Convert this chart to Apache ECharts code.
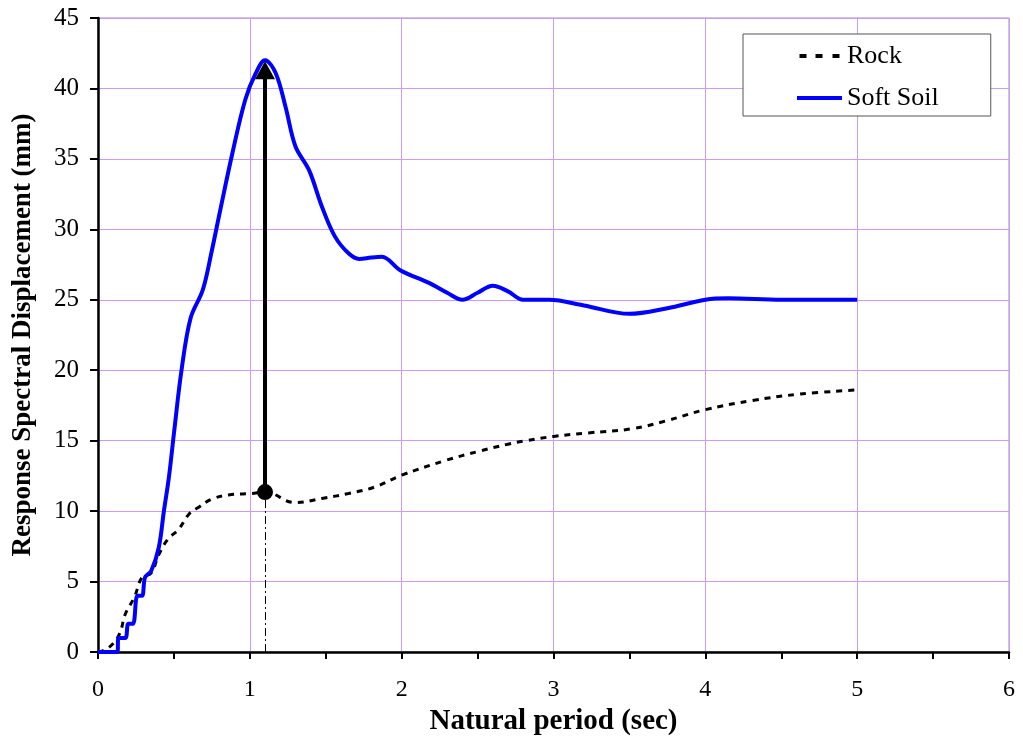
<!DOCTYPE html>
<html>
<head>
<meta charset="utf-8">
<script src="https://cdn.jsdelivr.net/npm/echarts@6/dist/echarts.min.js"></script>
<style>
  html, body { margin: 0; padding: 0; background: #fff; }
  #chart { width: 1023px; height: 742px; }
</style>
</head>
<body>
<div id="chart"></div>
<script>
// Soft soil curve (period in sec, displacement in mm)
const soilPeriod = [0, 0.127, 0.135, 0.18, 0.2, 0.23, 0.26, 0.29, 0.31, 0.35, 0.4, 0.434, 0.467, 0.5, 0.55, 0.61, 0.69, 0.75, 0.8, 0.885, 0.97, 1.04, 1.1, 1.17, 1.235, 1.3, 1.39, 1.475, 1.56, 1.65, 1.72, 1.8, 1.87, 1.99, 2.18, 2.3, 2.4, 2.5, 2.6, 2.7, 2.8, 2.97, 3.2, 3.5, 3.75, 4.0, 4.15, 4.5, 5.0];
const soilDisp = [0, 0, 1.0, 1.0, 2.0, 2.0, 4.0, 4.0, 5.3, 5.75, 7.4, 10.0, 12.4, 15.5, 20.0, 23.7, 25.7, 28.5, 31.1, 35.4, 39.2, 41.1, 42.0, 41.1, 38.7, 35.9, 34.2, 31.6, 29.5, 28.3, 27.9, 28.0, 28.05, 27.1, 26.2, 25.5, 25.0, 25.5, 26.0, 25.6, 25.0, 25.0, 24.6, 24.0, 24.4, 25.0, 25.1, 25.0, 25.0];

// Rock curve
const rockPeriod = [0, 0.07, 0.14, 0.18, 0.24, 0.29, 0.35, 0.4, 0.46, 0.53, 0.6, 0.66, 0.75, 0.86, 1.01, 1.1, 1.3, 1.475, 1.65, 1.82, 2.0, 2.29, 2.51, 2.7, 2.82, 3.0, 3.23, 3.52, 3.74, 4.0, 4.31, 4.62, 5.0];
const rockDisp = [0, 0.3, 1.25, 2.7, 3.9, 5.3, 5.6, 6.9, 8.0, 8.7, 9.8, 10.25, 10.85, 11.15, 11.25, 11.35, 10.6, 10.9, 11.25, 11.7, 12.55, 13.6, 14.25, 14.75, 15.0, 15.3, 15.55, 15.85, 16.4, 17.2, 17.85, 18.3, 18.6];

const seriesNames = ['Rock', 'Soft Soil'];
const xTicks = [0, 1, 2, 3, 4, 5, 6];
const yTicks = [0, 5, 10, 15, 20, 25, 30, 35, 40, 45];

// the amplification arrow goes from the rock value to the soil peak
const peakIdx = soilDisp.indexOf(Math.max(...soilDisp));
const peakPeriod = soilPeriod[peakIdx];
const peakDisp = soilDisp[peakIdx];
const rockAtPeak = rockDisp[rockPeriod.indexOf(peakPeriod)];

const serif = '"Liberation Serif", "Times New Roman", serif';

const chart = echarts.init(document.getElementById('chart'));
chart.setOption({
  animation: false,
  grid: {
    left: 98, right: 14, top: 18, bottom: 90,
    show: true, borderColor: '#9c8fb0', borderWidth: 1
  },
  legend: {
    data: [
      { name: seriesNames[0], icon: 'path://M0,0H7V4H0Z M16,0H23V4H16Z M33,0H40V4H33Z' },
      { name: seriesNames[1], icon: 'path://M0,0H45V4H0Z' }
    ],
    orient: 'vertical',
    left: 743, top: 34,
    padding: [9, 52, 5, 54],
    itemGap: 16,
    itemWidth: 45,
    itemHeight: 4,
    borderColor: '#555',
    borderWidth: 1,
    backgroundColor: '#fff',
    textStyle: { fontFamily: serif, fontSize: 26, color: '#000' }
  },
  xAxis: {
    type: 'value',
    min: xTicks[0],
    max: xTicks[xTicks.length - 1],
    interval: 1,
    name: 'Natural period (sec)',
    nameLocation: 'middle',
    nameGap: 54,
    nameTextStyle: { fontFamily: serif, fontSize: 29, fontWeight: 'bold', color: '#000' },
    axisLine: { lineStyle: { color: '#000', width: 2.5 } },
    axisTick: { show: true, length: 7, lineStyle: { color: '#000', width: 2 } },
    minorTick: { show: true, splitNumber: 2, length: 7, lineStyle: { color: '#000', width: 2 } },
    axisLabel: { margin: 26, fontFamily: serif, fontSize: 24, color: '#000' },
    splitLine: { show: true, lineStyle: { color: '#cc99ff', width: 1 } }
  },
  yAxis: {
    type: 'value',
    min: yTicks[0],
    max: yTicks[yTicks.length - 1],
    interval: 5,
    name: 'Response Spectral Displacement (mm)',
    nameLocation: 'middle',
    nameRotate: 90,
    nameGap: 61,
    nameTextStyle: { fontFamily: serif, fontSize: 27, fontWeight: 'bold', color: '#000' },
    axisLine: { show: true, lineStyle: { color: '#000', width: 2.5 } },
    axisTick: { show: true, length: 8, lineStyle: { color: '#000', width: 2 } },
    axisLabel: { margin: 19, fontFamily: serif, fontSize: 25, color: '#000' },
    splitLine: { show: true, lineStyle: { color: '#cc99ff', width: 1 } }
  },
  series: [
    {
      name: seriesNames[0],
      type: 'line',
      data: rockPeriod.map((p, i) => [p, rockDisp[i]]),
      smooth: 0.4,
      symbol: 'none',
      itemStyle: { color: '#000' },
      lineStyle: { color: '#000', width: 3, type: [6, 6] },
      z: 3
    },
    {
      name: seriesNames[1],
      type: 'line',
      data: soilPeriod.map((p, i) => [p, soilDisp[i]]),
      smooth: 0.35,
      symbol: 'none',
      itemStyle: { color: '#0000ff' },
      lineStyle: { color: '#0000ff', width: 4 },
      z: 4,
      markLine: {
        silent: true,
        animation: false,
        label: { show: false },
        data: [
          [
            { coord: [peakPeriod, rockAtPeak], symbol: 'circle', symbolSize: 16 },
            { coord: [peakPeriod, peakDisp - 0.7], symbol: 'triangle', symbolSize: [20, 18] }
          ],
          [
            { coord: [peakPeriod, 0], symbol: 'none',
              lineStyle: { color: '#000', width: 1, type: [8, 3, 2, 3] } },
            { coord: [peakPeriod, rockAtPeak], symbol: 'none' }
          ]
        ],
        itemStyle: { color: '#000' },
        lineStyle: { color: '#000', width: 4, type: 'solid' },
        z: 10
      }
    }
  ]
});
</script>
</body>
</html>
